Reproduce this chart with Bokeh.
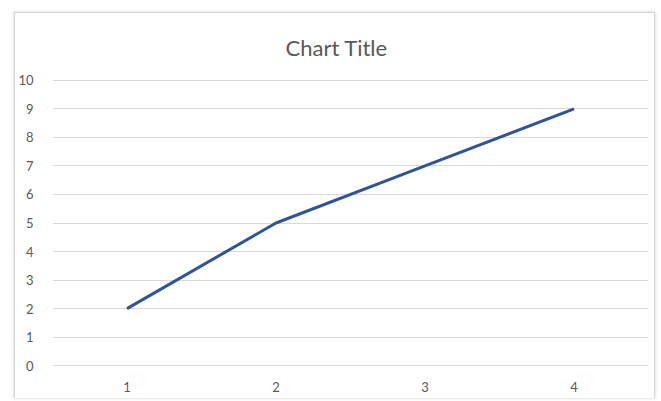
from bokeh.plotting import figure
from bokeh.models import FactorRange, Range1d, FixedTicker
from bokeh.embed import file_html
from bokeh.resources import INLINE

categories = ["1", "2", "3", "4"]
values = [2, 5, 7, 9]
y_ticks = [0, 1, 2, 3, 4, 5, 6, 7, 8, 9, 10]

FONT = "Lato"
GRAY = "#595959"

p = figure(
    x_range=FactorRange(factors=categories, range_padding=0),
    y_range=Range1d(-0.03, 10.03),
    width=641, height=386,
    output_backend="svg", toolbar_location=None,
    min_border_left=32, min_border_right=8, min_border_top=65, min_border_bottom=33,
    title="Chart Title",
)
p.margin = (12, 0, 0, 14)
p.styles = {
    "border-top": "1px solid #d6d6d6",
    "border-left": "1px solid #d6d6d6",
    "border-right": "1px solid #d6d6d6",
    "box-shadow": "0 0 3px #cccccc",
}

p.title.align = "left"
p.title.text_font = FONT
p.title.text_font_size = "22px"
p.title.text_font_style = "normal"
p.title.text_color = GRAY
p.title.standoff = 37
p.title.offset = 233

p.outline_line_color = None
p.background_fill_color = "white"
p.border_fill_color = "white"

p.xgrid.grid_line_color = None
p.ygrid.grid_line_color = "#d9d9d9"
p.ygrid.grid_line_width = 1

p.yaxis.ticker = FixedTicker(ticks=y_ticks)
for ax in (p.xaxis, p.yaxis):
    ax.axis_line_color = None
    ax.major_tick_line_color = None
    ax.minor_tick_line_color = None
    ax.major_label_text_font = FONT
    ax.major_label_text_font_size = "13px"
    ax.major_label_text_color = GRAY
p.yaxis.major_label_standoff = 13
p.xaxis.major_label_standoff = 9

p.line(x=categories, y=values, line_color="#2f5597", line_width=3)

open("out.html", "w").write(file_html(p, INLINE))
